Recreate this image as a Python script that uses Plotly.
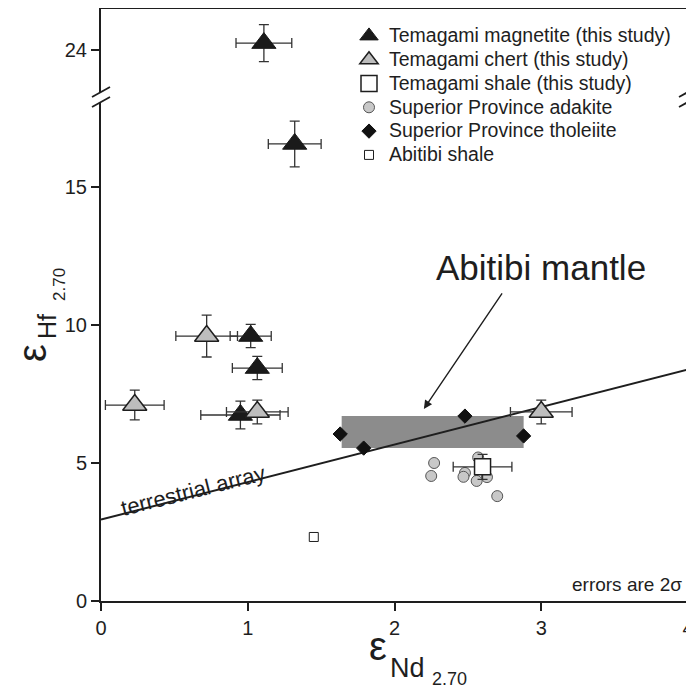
import plotly.graph_objects as go

# ---------------- data ----------------
mag_x = [1.11, 1.32, 1.02, 1.065, 0.95]
mag_y = [24.25, 16.56, 9.6, 8.44, 6.74]
mag_xerr = [0.19, 0.18, 0.14, 0.17, 0.27]
mag_yerr = [0.67, 0.83, 0.42, 0.42, 0.5]

chert_x = [0.72, 0.23, 1.065, 3.0]
chert_y = [9.6, 7.1, 6.85, 6.85]
chert_xerr = [0.21, 0.2, 0.21, 0.21]
chert_yerr = [0.76, 0.54, 0.43, 0.43]

tshale_x = [2.6]
tshale_y = [4.86]
tshale_xerr = [0.2]
tshale_yerr = [0.45]

adakite_x = [2.27, 2.25, 2.48, 2.47, 2.57, 2.56, 2.63, 2.70]
adakite_y = [5.0, 4.53, 4.64, 4.5, 5.2, 4.35, 4.49, 3.8]

thol_x = [1.63, 1.79, 2.48, 2.88]
thol_y = [6.05, 5.54, 6.7, 5.98]

abshale_x = [1.45]
abshale_y = [2.32]

mantle_x = [1.64, 2.88]
mantle_y = [5.54, 6.7]

tarray_x = [0, 4]
tarray_y = [2.95, 8.39]

x_ticks = [0, 1, 2, 3, 4]
y_ticks_low = [0, 5, 10, 15]
y_ticks_up = [24]

# ---------------- layout geometry ----------------
OFF = 8                      # page body margin of the html page
W, H = 694 - OFF, 691 - OFF
ML, MR, MT, MB = 101 - OFF, 6, 1, 90
PW = W - ML - MR
PH = H - MT - MB
Y0PX = OFF + H - MB          # window pixel row of y = 0


def fx(px):
    return (px - OFF - ML) / PW


def fy(py):
    return (Y0PX - py) / PH


low_top_px, up_bot_px = 102, 92
d_low = [0, fy(low_top_px)]
d_up = [fy(up_bot_px), 1]
ppu = 27.6
low_range = [0, (Y0PX - low_top_px) / ppu]
up_range = [24 - (up_bot_px - 50) / ppu, 24 + (50 - (OFF + MT)) / ppu]

FONT = "Liberation Sans, Arial, Helvetica, sans-serif"
INK = "#1e1e1e"
ERR = dict(color="#333333", thickness=1.3, width=5)


def nm(s):
    return '<span style="font-size:19.5px">' + s + '</span>'


fig = go.Figure()

# terrestrial array line
fig.add_trace(go.Scatter(x=tarray_x, y=tarray_y, mode="lines",
                         line=dict(color=INK, width=2), showlegend=False,
                         hoverinfo="skip", xaxis="x", yaxis="y"))

low_idx = [i for i, v in enumerate(mag_y) if v < 20]
up_idx = [i for i, v in enumerate(mag_y) if v >= 20]

mag_marker = dict(symbol="triangle-up", size=21, color="#1a1a1a",
                  line=dict(color="#1a1a1a", width=1))
fig.add_trace(go.Scatter(
    x=[mag_x[i] for i in low_idx], y=[mag_y[i] for i in low_idx],
    error_x=dict(type="data", array=[mag_xerr[i] for i in low_idx], **ERR),
    error_y=dict(type="data", array=[mag_yerr[i] for i in low_idx], **ERR),
    mode="markers", marker=mag_marker, name=nm("Temagami magnetite (this study)"),
    legendrank=1, xaxis="x", yaxis="y"))
fig.add_trace(go.Scatter(
    x=[mag_x[i] for i in up_idx], y=[mag_y[i] for i in up_idx],
    error_x=dict(type="data", array=[mag_xerr[i] for i in up_idx], **ERR),
    error_y=dict(type="data", array=[mag_yerr[i] for i in up_idx], **ERR),
    mode="markers", marker=mag_marker, showlegend=False,
    name="Temagami magnetite (this study)", xaxis="x2", yaxis="y2"))

fig.add_trace(go.Scatter(
    x=chert_x, y=chert_y,
    error_x=dict(type="data", array=chert_xerr, **ERR),
    error_y=dict(type="data", array=chert_yerr, **ERR),
    mode="markers",
    marker=dict(symbol="triangle-up", size=21, color="#bdbdbd",
                line=dict(color=INK, width=1.5)),
    name=nm("Temagami chert (this study)"), legendrank=2, xaxis="x", yaxis="y"))

fig.add_trace(go.Scatter(
    x=adakite_x, y=adakite_y, mode="markers",
    marker=dict(symbol="circle", size=11, color="#c8c8c8",
                line=dict(color="#555555", width=1)),
    name=nm("Superior Province adakite"), legendrank=4, xaxis="x", yaxis="y"))

fig.add_trace(go.Scatter(
    x=tshale_x, y=tshale_y,
    error_x=dict(type="data", array=tshale_xerr, **ERR),
    error_y=dict(type="data", array=tshale_yerr, **ERR),
    mode="markers",
    marker=dict(symbol="square", size=16, color="white",
                line=dict(color=INK, width=1.5)),
    name=nm("Temagami shale (this study)"), legendrank=3, xaxis="x", yaxis="y"))

fig.add_trace(go.Scatter(
    x=thol_x, y=thol_y, mode="markers",
    marker=dict(symbol="diamond", size=11, color="#111111",
                line=dict(color="#111111", width=1)),
    name=nm("Superior Province tholeiite"), legendrank=5, xaxis="x", yaxis="y"))

fig.add_trace(go.Scatter(
    x=abshale_x, y=abshale_y, mode="markers",
    marker=dict(symbol="square", size=9, color="white",
                line=dict(color=INK, width=1)),
    name=nm("Abitibi shale"), legendrank=6, xaxis="x", yaxis="y"))

# Abitibi mantle field
shapes = [dict(type="rect", xref="x", yref="y", x0=mantle_x[0], x1=mantle_x[1],
               y0=mantle_y[0], y1=mantle_y[1], fillcolor="#8c8c8c",
               line=dict(width=0), layer="below")]

# axis-break slashes
for xa in (0, 1):
    for ya in (d_low[1], d_up[0]):
        shapes.append(dict(type="line", xref="paper", yref="paper",
                           xsizemode="pixel", ysizemode="pixel",
                           xanchor=xa, yanchor=ya, x0=-9, x1=9, y0=-5, y1=5,
                           line=dict(color=INK, width=1.8)))

anns = []


def ann(text, px, py, size, xanchor="center", yanchor="middle", angle=0):
    anns.append(dict(text=text, x=fx(px), y=fy(py), xref="paper", yref="paper",
                     showarrow=False, xanchor=xanchor, yanchor=yanchor,
                     textangle=angle, font=dict(family=FONT, size=size, color=INK)))


# x-axis title pieces
ann("ε", 367, 660 - 0.35 * 40, 40, xanchor="left")
ann("Nd", 388, 677 - 0.35 * 27, 27, xanchor="left")
ann("2.70", 430, 685 - 0.35 * 18, 18, xanchor="left")
# y-axis title pieces (rotated)
ann("ε", 32, 353, 40, angle=-90)
ann("Hf", 47, 327, 25, angle=-90)
ann("2.70", 59, 285, 17, angle=-90)

ann("errors are 2σ", 684, 597, 19, xanchor="right", yanchor="bottom")

# terrestrial array label
anns.append(dict(text="terrestrial array", x=0.63, y=4.02, xref="x", yref="y",
                 showarrow=False, textangle=-14.2,
                 font=dict(family=FONT, size=22, color=INK)))
# Abitibi mantle label + arrow
anns.append(dict(text="Abitibi mantle", x=3.0, y=12.07, xref="x", yref="y",
                 showarrow=False, font=dict(family=FONT, size=35, color=INK)))
anns.append(dict(text="", x=2.2, y=6.96, ax=2.74, ay=11.2, xref="x", yref="y",
                 axref="x", ayref="y", showarrow=True, arrowhead=2,
                 arrowsize=1.2, arrowwidth=1.4, arrowcolor=INK))

axis_common = dict(showgrid=False, zeroline=False, showline=True, linecolor=INK,
                   linewidth=2, ticks="outside", ticklen=8, tickwidth=1.6,
                   tickcolor=INK, tickfont=dict(family=FONT, size=20, color=INK))

fig.update_layout(
    width=W, height=H, margin=dict(l=ML, r=MR, t=MT, b=MB),
    paper_bgcolor="white", plot_bgcolor="white",
    font=dict(family=FONT, color=INK),
    xaxis=dict(domain=[0, 1], anchor="y", range=[0, 4], tickvals=x_ticks,
               **axis_common),
    yaxis=dict(domain=d_low, anchor="x", range=low_range, tickvals=y_ticks_low,
               mirror=True, **axis_common),
    xaxis2=dict(domain=[0, 1], anchor="y2", range=[0, 4], matches="x",
                side="top", showgrid=False, zeroline=False, showline=True,
                linecolor=INK, linewidth=2, ticks="", showticklabels=False),
    yaxis2=dict(domain=d_up, anchor="x2", range=up_range, tickvals=y_ticks_up,
                mirror=True, **axis_common),
    legend=dict(x=fx(349), y=fy(19), xanchor="left", yanchor="top",
                traceorder="normal", tracegroupgap=0,
                bgcolor="rgba(0,0,0,0)", borderwidth=0, itemsizing="trace",
                font=dict(family=FONT, size=16, color=INK)),
    shapes=shapes, annotations=anns, showlegend=True,
)

fig.write_html("out.html")
